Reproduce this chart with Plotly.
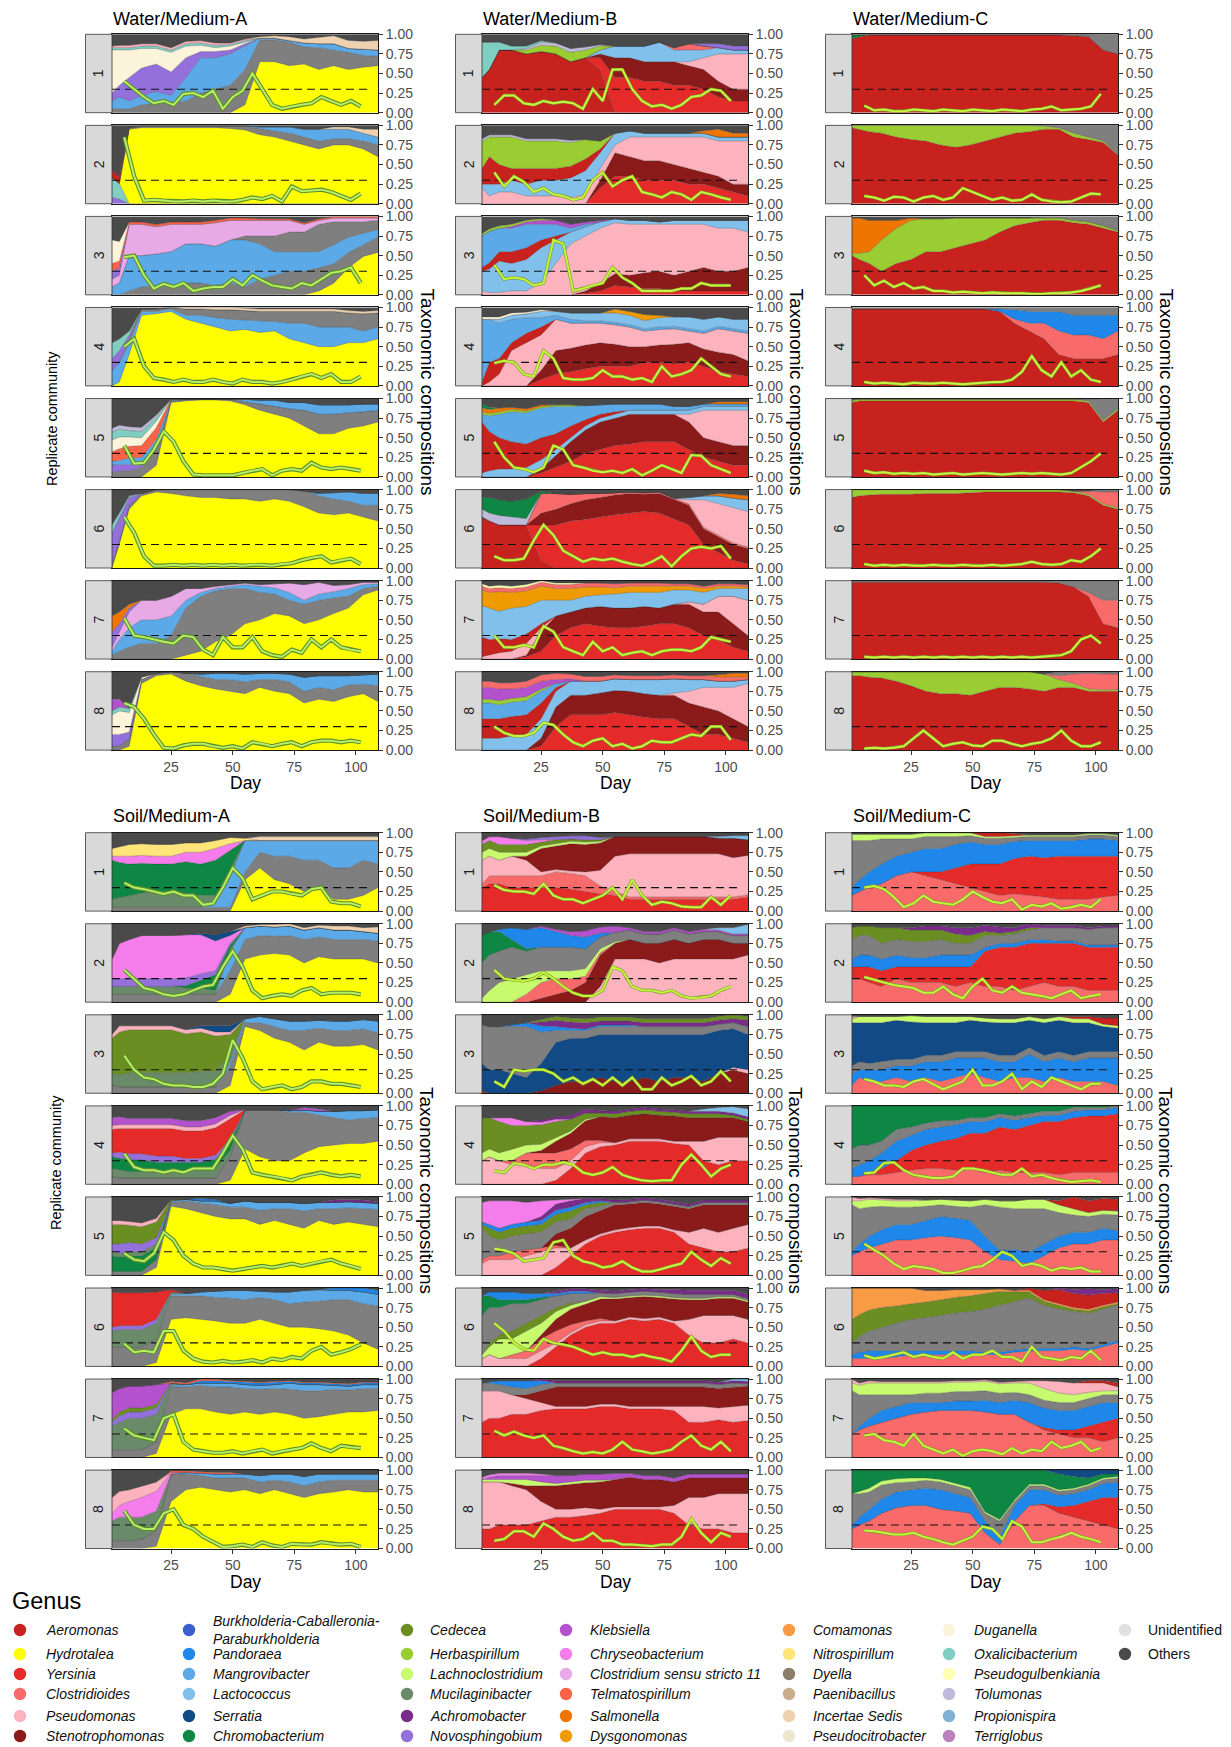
import plotly.graph_objects as go

# ---------------- data ----------------
DAYS = [1, 4, 8, 13, 19, 25, 31, 37, 43, 49, 55, 61, 67, 73, 79, 85, 91, 97, 103, 109]
LINE_DAYS = [6, 10, 14, 18, 22, 26, 30, 34, 38, 42, 46, 50, 54, 58, 62, 66, 70, 74, 78, 82, 86, 90, 94, 98, 102]
THRESHOLD = 0.3
DAY_TICKS = [25, 50, 75, 100]
PROP_TICKS = [0, 0.25, 0.5, 0.75, 1.0]
PROP_TICK_LABELS = ["0.00", "0.25", "0.50", "0.75", "1.00"]
REPLICATES = ["1", "2", "3", "4", "5", "6", "7", "8"]
HABITATS = ["Water", "Soil"]
MEDIA = ["Medium-A", "Medium-B", "Medium-C"]

GENUS_COLORS = {
    "Aeromonas": "#C8221F", "Hydrotalea": "#FFFF00", "Yersinia": "#E52A2A",
    "Clostridioides": "#F96B6B", "Pseudomonas": "#FCB3BE", "Stenotrophomonas": "#8B1A1A",
    "Burkholderia-Caballeronia-Paraburkholderia": "#3A5FCD", "Pandoraea": "#1F86EA",
    "Mangrovibacter": "#5BA9E6", "Lactococcus": "#82C0EC", "Serratia": "#124A85",
    "Chromobacterium": "#0E8744", "Cedecea": "#6B8E23", "Herbaspirillum": "#9ACD32",
    "Lachnoclostridium": "#C8FA6E", "Mucilaginibacter": "#698B69", "Achromobacter": "#7A2C8B",
    "Novosphingobium": "#9370DB", "Klebsiella": "#B452CD", "Chryseobacterium": "#F47CEB",
    "Clostridium sensu stricto 11": "#E8AAE6", "Telmatospirillum": "#FF6347",
    "Salmonella": "#EE7600", "Dysgonomonas": "#EE9A00", "Comamonas": "#F99B45",
    "Nitrospirillum": "#FFE47A", "Dyella": "#8B7D6B", "Paenibacillus": "#C9AE8E",
    "Incertae Sedis": "#EED2B0", "Pseudocitrobacter": "#EEE7CF", "Duganella": "#FBF3DA",
    "Oxalicibacterium": "#80CDC1", "Pseudogulbenkiania": "#FFFFB3", "Tolumonas": "#BEBADA",
    "Propionispira": "#80B1D3", "Terriglobus": "#BC80BD", "Unidentified": "#E0E0E0",
    "Others": "#4A4A4A",
}
MINOR_COLOR = "#7F7F7F"

LEGEND_COLUMNS = [
    ["Aeromonas", "Hydrotalea", "Yersinia", "Clostridioides", "Pseudomonas", "Stenotrophomonas"],
    ["Burkholderia-Caballeronia-Paraburkholderia", "Pandoraea", "Mangrovibacter", "Lactococcus", "Serratia", "Chromobacterium"],
    ["Cedecea", "Herbaspirillum", "Lachnoclostridium", "Mucilaginibacter", "Achromobacter", "Novosphingobium"],
    ["Klebsiella", "Chryseobacterium", "Clostridium sensu stricto 11", "Telmatospirillum", "Salmonella", "Dysgonomonas"],
    ["Comamonas", "Nitrospirillum", "Dyella", "Paenibacillus", "Incertae Sedis", "Pseudocitrobacter"],
    ["Duganella", "Oxalicibacterium", "Pseudogulbenkiania", "Tolumonas", "Propionispira", "Terriglobus"],
    ["Unidentified", "Others"],
]

# ---- Water / Medium-A (percent per genus at DAYS; remainder = Others) ----
WA1 = {
    "Hydrotalea":      [0,0,0,0,0,0,0,0,0,0,10,65,65,60,62,55,60,55,58,60],
    "Minor":           [5,5,5,10,12,12,15,25,30,35,45,28,28,30,22,28,20,22,15,12],
    "Mangrovibacter":  [10,15,10,12,15,10,30,45,40,40,30,2,2,2,5,5,8,5,8,8],
    "Novosphingobium": [10,15,30,35,35,30,25,8,8,5,3,0,0,0,0,0,0,0,0,0],
    "Duganella":       [55,45,35,25,20,25,15,8,5,5,2,0,0,0,0,0,0,0,0,0],
    "Oxalicibacterium":[3,3,3,3,3,3,3,3,3,2,2,0,0,0,0,0,0,0,0,0],
    "Pseudomonas":     [2,3,3,3,3,3,3,3,3,2,2,0,0,0,0,0,0,0,0,0],
    "Incertae Sedis":  [0,0,0,0,0,0,0,0,0,0,0,2,3,5,5,8,10,10,10,12],
}
WA1_LINE = [0.4,0.3,0.2,0.12,0.15,0.1,0.24,0.25,0.2,0.28,0.05,0.2,0.28,0.5,0.3,0.1,0.05,0.08,0.1,0.12,0.2,0.15,0.1,0.15,0.08]
WA2 = {
    "Novosphingobium": [8,6,0,0,0,0,0,0,0,0,0,0,0,0,0,0,0,0,0,0],
    "Oxalicibacterium":[25,20,0,0,0,0,0,0,0,0,0,0,0,0,0,0,0,0,0,0],
    "Hydrotalea":      [0,0,95,97,97,97,97,97,97,96,94,88,85,80,75,70,75,75,70,60],
    "Minor":           [0,0,2,2,2,2,2,2,2,3,5,8,8,10,10,10,8,8,10,15],
    "Mangrovibacter":  [0,0,0,0,0,0,0,0,0,0,0,2,5,8,10,15,12,12,10,10],
    "Aeromonas":       [10,8,0,0,0,0,0,0,0,0,0,0,0,0,0,0,0,0,0,0],
    "Incertae Sedis":  [0,0,0,0,0,0,0,0,0,0,0,0,0,0,0,0,3,3,5,10],
}
WA2_LINE = [0.85,0.35,0.04,0.05,0.04,0.03,0.03,0.04,0.03,0.04,0.03,0.03,0.05,0.08,0.06,0.1,0.03,0.22,0.16,0.17,0.18,0.15,0.1,0.05,0.13]
WA3 = {
    "Hydrotalea":      [0,0,0,0,0,0,0,0,0,0,0,0,0,0,0,5,15,35,50,55],
    "Minor":           [0,0,5,10,12,10,15,15,12,15,10,20,25,30,30,30,25,20,15,20],
    "Mangrovibacter":  [10,15,45,40,40,45,50,50,50,55,60,45,30,25,25,20,25,20,15,10],
    "Minor 2":         [0,0,0,0,0,0,0,0,0,0,5,10,20,25,25,35,30,20,15,12],
    "Clostridium sensu stricto 11": [10,10,40,40,35,35,25,25,30,25,20,20,20,15,10,5,5,5,5,3],
    "Novosphingobium": [10,10,0,0,0,0,0,0,0,0,0,0,0,0,0,0,0,0,0,0],
    "Telmatospirillum":[10,8,3,3,3,3,3,3,3,3,3,2,2,2,2,2,2,2,2,2],
    "Duganella":       [30,25,0,0,0,0,0,0,0,0,0,0,0,0,0,0,0,0,0,0],
}
WA3_LINE = [0.48,0.5,0.25,0.08,0.14,0.1,0.15,0.05,0.08,0.1,0.1,0.2,0.12,0.25,0.18,0.12,0.1,0.08,0.15,0.12,0.2,0.28,0.3,0.35,0.15]
WA4 = {
    "Hydrotalea":      [0,5,40,90,92,95,85,80,75,70,72,68,70,60,55,50,50,55,55,60],
    "Mangrovibacter":  [20,25,15,5,3,3,5,10,12,15,12,15,12,20,25,25,25,20,15,15],
    "Minor":           [0,0,5,3,3,2,8,8,10,12,12,12,13,15,15,20,20,18,22,18],
    "Novosphingobium": [15,15,5,0,0,0,0,0,0,0,0,0,0,0,0,0,0,0,0,0],
    "Oxalicibacterium":[20,15,5,0,0,0,0,0,0,0,0,0,0,0,0,0,0,0,0,0],
    "Incertae Sedis":  [0,0,0,0,0,0,2,2,3,3,3,3,3,3,3,3,3,3,3,3],
}
WA4_LINE = [0.5,0.6,0.25,0.1,0.08,0.05,0.08,0.05,0.05,0.08,0.05,0.03,0.08,0.05,0.05,0.03,0.05,0.08,0.12,0.15,0.1,0.15,0.05,0.05,0.12]
WA5 = {
    "Hydrotalea":      [0,0,0,0,15,95,97,98,98,97,92,85,80,75,65,55,55,62,65,70],
    "Minor":           [5,8,8,12,20,2,2,1,1,2,4,8,10,12,20,25,25,20,18,15],
    "Novosphingobium": [10,8,8,5,3,0,0,0,0,0,0,0,0,0,0,0,0,0,0,0],
    "Mangrovibacter":  [5,5,8,8,10,1,0,0,0,0,3,5,8,8,10,12,12,10,10,8],
    "Telmatospirillum":[12,15,15,15,15,1,0,0,0,0,0,0,0,0,0,0,0,0,0,0],
    "Duganella":       [15,15,12,10,8,0,0,0,0,0,0,0,0,0,0,0,0,0,0,0],
    "Oxalicibacterium":[10,10,8,8,5,0,0,0,0,0,0,0,0,0,0,0,0,0,0,0],
    "Tolumonas":       [5,5,5,5,3,0,0,0,0,0,0,0,0,0,0,0,0,0,0,0],
}
WA5_LINE = [0.4,0.17,0.18,0.35,0.58,0.45,0.2,0.03,0.02,0.02,0.02,0.02,0.05,0.08,0.1,0.02,0.08,0.1,0.08,0.18,0.12,0.1,0.12,0.1,0.08]
WA6 = {
    "Hydrotalea":      [0,30,75,92,97,95,92,90,90,88,88,85,88,85,78,70,68,70,65,60],
    "Minor":           [5,5,5,3,3,5,8,10,10,12,12,15,12,15,20,22,20,15,15,20],
    "Mangrovibacter":  [0,0,0,0,0,0,0,0,0,0,0,0,0,0,0,3,8,12,15,15],
    "Novosphingobium": [40,30,10,0,0,0,0,0,0,0,0,0,0,0,0,0,0,0,0,0],
    "Oxalicibacterium":[10,5,2,0,0,0,0,0,0,0,0,0,0,0,0,0,0,0,0,0],
}
WA6_LINE = [0.65,0.45,0.15,0.03,0.03,0.04,0.03,0.04,0.03,0.04,0.03,0.04,0.03,0.04,0.04,0.03,0.05,0.06,0.1,0.13,0.15,0.07,0.1,0.12,0.05]
WA7 = {
    "Hydrotalea":      [0,0,0,0,0,0,5,10,22,30,45,50,58,55,45,50,58,65,82,88],
    "Minor":           [5,10,15,20,20,30,60,70,65,60,45,35,25,20,25,25,20,15,8,5],
    "Mangrovibacter":  [5,15,25,30,30,25,10,5,3,3,5,8,8,10,5,8,8,10,5,3],
    "Clostridium sensu stricto 11": [5,10,20,25,25,25,15,5,3,2,2,2,5,12,20,15,8,5,3,2],
    "Novosphingobium": [20,10,5,0,0,0,0,0,0,0,0,0,0,0,0,0,0,0,0,0],
    "Salmonella":      [20,15,5,0,0,0,0,0,0,0,0,0,0,0,0,0,0,0,0,0],
}
WA7_LINE = [0.52,0.3,0.28,0.25,0.22,0.2,0.3,0.28,0.12,0.05,0.28,0.15,0.15,0.28,0.1,0.05,0.03,0.12,0.08,0.25,0.15,0.25,0.15,0.12,0.1]
WA8 = {
    "Hydrotalea":      [0,0,5,85,95,97,88,82,78,75,72,80,75,72,60,65,62,68,72,62],
    "Minor":           [5,5,10,5,3,3,10,12,12,15,15,10,15,15,15,15,15,15,12,20],
    "Mangrovibacter":  [0,0,0,0,0,0,0,3,8,8,10,8,8,10,18,15,18,12,12,15],
    "Novosphingobium": [15,15,8,0,0,0,0,0,0,0,0,0,0,0,0,0,0,0,0,0],
    "Duganella":       [25,30,25,3,0,0,0,0,0,0,0,0,0,0,0,0,0,0,0,0],
    "Oxalicibacterium":[5,5,5,0,0,0,0,0,0,0,0,0,0,0,0,0,0,0,0,0],
    "Klebsiella":      [15,10,0,0,0,0,0,0,0,0,0,0,0,0,0,0,0,0,0,0],
}
WA8_LINE = [0.6,0.55,0.4,0.2,0.03,0.02,0.06,0.08,0.08,0.05,0.03,0.05,0.02,0.1,0.08,0.05,0.08,0.1,0.05,0.1,0.12,0.12,0.1,0.12,0.1]

# ---- Water / Medium-B ----
WB1 = {
    "Aeromonas":       [45,55,80,80,75,78,75,65,70,55,0,0,0,0,0,0,0,0,0,0],
    "Yersinia":        [0,0,0,0,0,0,0,0,0,15,45,45,40,40,35,35,30,20,15,15],
    "Stenotrophomonas":[0,0,0,0,0,0,0,0,0,5,25,25,25,25,30,25,25,20,15,15],
    "Pseudomonas":     [0,0,0,0,0,0,0,0,0,0,0,0,0,0,0,5,15,35,45,45],
    "Lactococcus":     [0,0,0,0,0,0,0,0,0,5,15,15,20,25,15,15,10,8,5,5],
    "Clostridioides":  [0,0,0,0,0,0,0,0,0,0,0,0,0,0,3,8,5,0,0,0],
    "Herbaspirillum":  [0,0,0,0,5,8,10,12,10,5,0,0,0,0,0,0,0,0,0,0],
    "Tolumonas":       [0,0,0,0,2,4,4,5,4,2,0,0,0,0,0,0,0,0,0,0],
    "Oxalicibacterium":[45,35,10,5,3,2,0,0,0,0,0,0,0,0,0,0,0,0,0,0],
    "Novosphingobium": [0,0,0,0,0,0,0,0,0,0,0,0,0,0,0,0,3,5,5,5],
}
WB1_LINE = [0.1,0.22,0.22,0.12,0.1,0.15,0.12,0.14,0.12,0.05,0.3,0.15,0.55,0.55,0.3,0.15,0.08,0.1,0.05,0.1,0.2,0.22,0.3,0.28,0.15]
WB2 = {
    "Yersinia":        [0,0,0,0,0,0,0,0,0,20,35,35,30,30,30,25,25,20,15,10],
    "Stenotrophomonas":[0,0,0,0,0,0,0,0,0,10,30,25,25,25,20,20,15,15,10,15],
    "Pseudomonas":     [20,10,15,15,10,10,10,8,12,15,10,25,30,30,35,40,45,45,55,55],
    "Lactococcus":     [5,15,10,15,15,20,20,25,30,20,15,8,5,5,5,5,5,5,5,5],
    "Aeromonas":       [20,35,25,15,20,15,15,15,15,5,0,0,0,0,0,0,0,0,0,0],
    "Herbaspirillum":  [35,25,35,40,35,35,35,30,25,10,0,0,0,0,0,0,0,0,0,0],
    "Tolumonas":       [3,3,3,3,3,3,3,3,0,0,0,0,0,0,0,0,0,0,0,0],
    "Salmonella":      [0,0,0,0,0,0,0,0,0,0,0,0,0,0,0,0,3,10,5,5],
}
WB2_LINE = [0.4,0.22,0.35,0.28,0.15,0.2,0.12,0.1,0.05,0.08,0.3,0.4,0.22,0.3,0.35,0.15,0.12,0.08,0.15,0.12,0.05,0.15,0.12,0.08,0.05]
WB3 = {
    "Yersinia":        [0,0,0,0,0,0,0,0,2,5,12,10,8,8,5,5,5,5,5,5],
    "Stenotrophomonas":[0,0,0,0,0,0,0,0,3,10,15,15,20,22,20,25,30,25,25,30],
    "Pseudomonas":     [5,3,3,5,5,15,40,65,70,70,65,65,62,60,65,60,55,55,55,45],
    "Lactococcus":     [25,30,40,35,40,45,30,15,12,8,5,5,5,3,5,5,5,10,10,15],
    "Aeromonas":       [5,8,12,15,15,10,5,0,0,0,0,0,0,0,0,0,0,0,0,0],
    "Mangrovibacter":  [40,40,30,30,30,20,15,5,3,0,0,0,0,0,0,0,0,0,0,0],
    "Klebsiella":      [0,0,0,2,3,5,5,5,3,2,0,0,0,0,0,0,0,0,0,0],
    "Herbaspirillum":  [3,3,3,3,2,2,0,0,0,0,0,0,0,0,0,0,0,0,0,0],
}
WB3_LINE = [0.38,0.2,0.22,0.2,0.12,0.15,0.7,0.65,0.05,0.08,0.12,0.15,0.35,0.22,0.15,0.05,0.05,0.05,0.05,0.08,0.08,0.15,0.12,0.12,0.12]
WB4 = {
    "Yersinia":        [0,0,0,0,0,8,15,18,22,25,25,25,30,30,28,30,25,18,15,12],
    "Stenotrophomonas":[0,0,0,0,0,12,30,30,30,30,28,25,20,22,25,25,22,25,25,20],
    "Pseudomonas":     [0,5,15,45,55,45,40,32,28,25,25,25,20,20,20,15,20,30,30,35],
    "Aeromonas":       [5,25,20,10,12,10,0,0,0,0,0,0,0,0,0,0,0,0,0,0],
    "Mangrovibacter":  [80,55,45,30,20,12,5,5,3,3,3,3,3,3,3,3,3,3,3,3],
    "Lactococcus":     [0,0,5,5,5,8,5,8,10,10,12,12,10,12,12,15,15,12,12,15],
    "Dysgonomonas":    [0,0,0,0,0,0,0,0,0,0,5,5,8,3,0,0,0,0,0,0],
    "Duganella":       [3,3,3,3,2,2,0,0,0,0,0,0,0,0,0,0,0,0,0,0],
}
WB4_LINE = [0.29,0.32,0.3,0.15,0.12,0.45,0.35,0.1,0.08,0.08,0.1,0.2,0.12,0.12,0.08,0.1,0.05,0.25,0.12,0.15,0.2,0.35,0.25,0.15,0.12]
WB5 = {
    "Yersinia":        [0,0,0,0,0,5,12,20,30,35,40,42,45,45,45,35,25,20,15,15],
    "Stenotrophomonas":[0,0,0,0,0,5,15,25,30,35,35,38,35,35,35,35,25,25,25,25],
    "Pseudomonas":     [0,0,0,0,0,0,0,0,0,0,0,0,0,0,0,10,35,40,45,45],
    "Lactococcus":     [5,8,10,10,12,12,8,5,5,5,5,5,5,5,5,5,5,5,5,5],
    "Aeromonas":       [65,50,40,35,30,28,20,15,8,5,3,0,0,0,0,0,0,0,0,0],
    "Mangrovibacter":  [10,20,30,38,40,38,35,25,18,12,10,8,8,8,5,5,3,3,3,3],
    "Herbaspirillum":  [3,3,3,3,2,2,2,2,0,0,0,0,0,0,0,0,0,0,0,0],
    "Salmonella":      [5,5,5,3,3,2,0,0,0,0,0,0,0,0,0,0,0,3,3,3],
    "Chromobacterium": [5,3,0,0,0,0,0,0,0,0,0,0,0,0,0,0,0,0,0,0],
}
WB5_LINE = [0.45,0.25,0.12,0.1,0.06,0.12,0.4,0.35,0.15,0.12,0.08,0.06,0.08,0.05,0.1,0.02,0.08,0.15,0.1,0.05,0.28,0.27,0.15,0.1,0.05]
WB6 = {
    "Aeromonas":       [65,60,55,55,55,10,0,0,0,0,0,0,0,0,0,0,0,0,0,0],
    "Yersinia":        [0,0,0,0,0,45,55,60,62,65,68,70,72,70,62,55,30,20,10,5],
    "Stenotrophomonas":[0,0,0,0,0,15,20,22,25,25,25,25,22,25,25,25,20,20,20,20],
    "Clostridioides":  [0,0,0,0,0,25,20,12,8,5,3,2,2,2,2,2,2,2,2,2],
    "Pseudomonas":     [0,0,0,0,0,0,0,0,0,0,0,0,0,0,0,5,35,40,45,45],
    "Lactococcus":     [0,0,0,0,0,0,0,0,0,0,0,0,0,0,0,3,5,10,12,15],
    "Tolumonas":       [10,10,12,10,8,0,0,0,0,0,0,0,0,0,0,0,0,0,0,0],
    "Chromobacterium": [15,20,20,20,25,3,0,0,0,0,0,0,0,0,0,0,0,0,0,0],
    "Salmonella":      [0,0,0,0,0,0,0,0,0,0,0,0,0,0,0,0,0,3,5,5],
}
WB6_LINE = [0.15,0.1,0.1,0.12,0.35,0.55,0.42,0.22,0.15,0.08,0.12,0.1,0.12,0.08,0.05,0.03,0.08,0.15,0.02,0.15,0.25,0.27,0.25,0.28,0.12]
WB7 = {
    "Yersinia":        [0,0,0,0,3,10,30,40,45,42,40,40,42,45,45,40,30,25,15,10],
    "Stenotrophomonas":[0,0,0,0,2,25,25,20,20,25,25,25,25,20,25,30,30,35,30,20],
    "Pseudomonas":     [3,5,8,10,15,5,0,0,0,0,0,0,0,0,0,3,10,20,35,45],
    "Aeromonas":       [25,20,18,15,12,5,0,0,0,0,0,0,0,0,0,0,0,0,0,0],
    "Lactococcus":     [40,40,35,40,35,30,20,15,15,15,18,20,18,20,18,15,15,10,10,15],
    "Dysgonomonas":    [20,20,25,20,20,18,15,15,12,10,8,8,8,8,5,5,5,3,3,2],
    "Clostridioides":  [5,5,5,5,5,5,5,5,5,5,5,4,4,4,3,3,3,3,3,3],
    "Pseudogulbenkiania":[3,3,3,3,3,2,2,2,0,0,0,0,0,0,0,0,0,0,0,0],
}
WB7_LINE = [0.3,0.15,0.15,0.18,0.15,0.42,0.35,0.15,0.1,0.05,0.22,0.1,0.15,0.05,0.08,0.1,0.05,0.1,0.12,0.12,0.1,0.15,0.28,0.25,0.22]
WB8 = {
    "Yersinia":        [0,0,0,0,0,5,30,45,45,45,48,45,42,40,40,30,20,20,15,10],
    "Stenotrophomonas":[0,0,0,0,0,10,25,25,25,28,28,30,30,30,30,30,35,30,25,20],
    "Pseudomonas":     [0,0,0,0,0,0,0,0,0,0,0,0,0,0,3,15,25,30,40,55],
    "Lactococcus":     [15,15,15,18,20,25,20,18,18,15,15,15,18,20,18,15,10,8,8,5],
    "Aeromonas":       [25,25,25,25,25,20,5,0,0,0,0,0,0,0,0,0,0,0,0,0],
    "Mangrovibacter":  [20,20,18,18,18,15,5,0,0,0,0,0,0,0,0,0,0,0,0,0],
    "Herbaspirillum":  [5,5,5,5,5,3,0,0,0,0,0,0,0,0,0,0,0,0,0,0],
    "Klebsiella":      [15,15,15,12,12,10,5,3,0,0,0,0,0,0,0,0,0,0,0,0],
    "Clostridioides":  [8,8,8,8,8,8,8,6,6,6,5,5,5,5,5,5,5,5,5,3],
    "Salmonella":      [0,0,0,0,0,0,0,0,0,0,0,0,0,0,0,0,0,3,5,5],
}
WB8_LINE = [0.3,0.22,0.18,0.18,0.22,0.35,0.32,0.2,0.1,0.05,0.12,0.15,0.05,0.08,0.02,0.05,0.12,0.1,0.1,0.15,0.2,0.18,0.3,0.3,0.13]

# ---- Water / Medium-C ----
WC1 = {
    "Aeromonas":       [94,97,99,99,99,99,99,99,99,99,99,99,99,99,99,99,98,97,80,75],
    "Chromobacterium": [5,2,0,0,0,0,0,0,0,0,0,0,0,0,0,0,0,0,0,0],
    "Minor":           [0,0,0,0,0,0,0,0,0,0,0,0,0,0,0,0,1,2,20,25],
}
WC1_LINE = [0.09,0.03,0.04,0.02,0.02,0.04,0.03,0.02,0.04,0.03,0.02,0.04,0.03,0.02,0.04,0.03,0.02,0.04,0.05,0.08,0.03,0.04,0.05,0.08,0.24]
WC2 = {
    "Aeromonas":       [97,95,92,90,85,82,80,75,72,75,80,85,90,92,95,95,85,82,78,62],
    "Herbaspirillum":  [3,5,8,10,15,18,20,25,28,25,20,15,10,8,4,2,5,3,2,0],
    "Minor":           [0,0,0,0,0,0,0,0,0,0,0,0,0,0,1,3,10,15,20,38],
}
WC2_LINE = [0.1,0.08,0.04,0.09,0.08,0.03,0.08,0.1,0.05,0.08,0.2,0.15,0.1,0.05,0.08,0.04,0.05,0.12,0.05,0.03,0.02,0.03,0.08,0.13,0.12]
WC3 = {
    "Aeromonas":       [50,45,40,30,40,45,55,55,60,65,70,80,88,92,95,95,92,90,85,80],
    "Herbaspirillum":  [3,8,15,40,45,50,42,42,38,33,28,18,10,6,3,3,3,3,3,2],
    "Salmonella":      [45,45,40,25,10,3,0,0,0,0,0,0,0,0,0,0,0,0,0,0],
    "Minor":           [0,0,0,0,0,0,0,0,0,0,0,0,0,0,2,2,5,7,12,18],
}
WC3_LINE = [0.25,0.12,0.18,0.1,0.15,0.08,0.1,0.05,0.05,0.03,0.04,0.03,0.02,0.03,0.02,0.02,0.02,0.01,0.01,0.02,0.02,0.03,0.05,0.08,0.12]
WC4 = {
    "Aeromonas":       [98,98,98,98,98,98,98,98,98,98,98,95,80,70,60,40,35,35,35,40],
    "Clostridioides":  [0,0,0,0,0,0,0,0,0,0,0,0,5,10,20,30,30,30,25,30],
    "Pandoraea":       [0,0,0,0,0,0,0,0,0,0,0,3,12,15,15,25,25,25,30,20],
    "Minor":           [2,2,2,2,2,2,2,2,2,2,2,2,3,5,5,5,10,10,10,10],
}
WC4_LINE = [0.05,0.03,0.04,0.03,0.02,0.04,0.03,0.03,0.04,0.03,0.02,0.03,0.04,0.05,0.05,0.08,0.18,0.38,0.2,0.12,0.3,0.12,0.2,0.08,0.05]
WC5 = {
    "Aeromonas":       [95,97,97,97,97,97,97,97,97,97,97,97,97,97,97,97,97,95,70,85],
    "Herbaspirillum":  [3,2,2,2,2,2,2,2,2,2,2,2,2,2,2,2,2,2,2,2],
    "Minor":           [0,0,0,0,0,0,0,0,0,0,0,0,0,0,0,0,0,2,28,13],
}
WC5_LINE = [0.08,0.05,0.06,0.04,0.05,0.04,0.05,0.03,0.04,0.05,0.03,0.04,0.05,0.04,0.03,0.04,0.05,0.04,0.05,0.04,0.03,0.05,0.12,0.2,0.3]
WC6 = {
    "Aeromonas":       [90,92,93,94,94,94,95,95,95,96,97,97,97,97,97,97,96,92,80,75],
    "Herbaspirillum":  [10,8,7,6,6,6,5,5,5,4,3,3,3,3,3,3,2,2,2,2],
    "Clostridioides":  [0,0,0,0,0,0,0,0,0,0,0,0,0,0,0,0,0,4,15,20],
    "Minor":           [0,0,0,0,0,0,0,0,0,0,0,0,0,0,0,0,0,0,3,3],
}
WC6_LINE = [0.05,0.03,0.04,0.03,0.04,0.03,0.03,0.04,0.03,0.03,0.04,0.03,0.03,0.04,0.03,0.04,0.05,0.08,0.05,0.04,0.05,0.1,0.08,0.15,0.25]
WC7 = {
    "Aeromonas":       [98,98,98,98,98,98,98,98,98,98,98,98,98,98,98,97,92,80,45,40],
    "Clostridioides":  [0,0,0,0,0,0,0,0,0,0,0,0,0,0,0,0,0,5,30,35],
    "Minor":           [2,2,2,2,2,2,2,2,2,2,2,2,2,2,2,3,8,15,25,25],
}
WC7_LINE = [0.03,0.02,0.03,0.02,0.03,0.02,0.03,0.02,0.03,0.02,0.03,0.02,0.03,0.02,0.03,0.02,0.03,0.02,0.03,0.04,0.05,0.1,0.25,0.3,0.2]
WC8 = {
    "Aeromonas":       [95,95,93,92,88,82,75,72,72,70,75,80,80,78,75,80,80,75,75,75],
    "Herbaspirillum":  [5,5,7,8,12,18,25,28,28,30,25,20,20,22,22,10,5,3,2,2],
    "Clostridioides":  [0,0,0,0,0,0,0,0,0,0,0,0,0,0,0,5,12,20,20,20],
    "Minor":           [0,0,0,0,0,0,0,0,0,0,0,0,0,0,0,5,3,2,3,3],
}
WC8_LINE = [0.02,0.03,0.02,0.03,0.05,0.15,0.25,0.15,0.05,0.08,0.1,0.06,0.05,0.12,0.12,0.08,0.05,0.08,0.1,0.15,0.25,0.12,0.05,0.05,0.1]

# ---- Soil / Medium-A ----
SA1 = {
    "Hydrotalea":      [0,0,0,0,0,0,0,0,0,0,40,55,40,35,25,30,15,15,20,30],
    "Minor":           [5,5,5,5,5,5,5,5,5,5,10,20,30,35,40,35,40,40,45,30],
    "Mangrovibacter":  [0,0,0,0,0,0,0,0,5,40,40,15,20,20,25,25,35,35,25,30],
    "Mucilaginibacter":[10,12,15,18,20,20,18,15,10,8,0,0,0,0,0,0,0,0,0,0],
    "Chromobacterium": [50,45,40,38,35,35,40,40,45,25,0,0,0,0,0,0,0,0,0,0],
    "Chryseobacterium":[5,8,10,10,10,10,12,15,15,8,0,0,0,0,0,0,0,0,0,0],
    "Nitrospirillum":  [10,12,15,15,15,15,12,12,10,8,3,0,0,0,0,0,0,0,0,0],
    "Incertae Sedis":  [0,0,0,0,0,0,0,0,0,0,0,5,5,5,5,5,5,5,5,5],
}
SA1_LINE = [0.36,0.3,0.28,0.25,0.22,0.25,0.2,0.2,0.08,0.1,0.3,0.55,0.42,0.15,0.2,0.25,0.25,0.22,0.2,0.28,0.3,0.12,0.1,0.1,0.06]
SA2 = {
    "Hydrotalea":      [0,0,0,0,0,0,0,0,0,10,55,60,62,60,50,58,55,55,55,50],
    "Minor":           [10,10,10,10,10,10,10,10,10,30,25,25,22,25,30,25,25,25,25,28],
    "Mangrovibacter":  [0,0,0,0,0,0,0,0,0,25,15,12,12,12,12,12,12,12,10,10],
    "Mucilaginibacter":[10,10,10,10,10,10,8,8,5,3,0,0,0,0,0,0,0,0,0,0],
    "Chromobacterium": [0,0,0,0,0,0,3,10,20,5,0,0,0,0,0,0,0,0,0,0],
    "Novosphingobium": [10,10,10,10,10,10,10,8,5,2,0,0,0,0,0,0,0,0,0,0],
    "Chryseobacterium":[25,45,50,55,55,55,55,50,38,10,0,0,0,0,0,0,0,0,0,0],
    "Serratia":        [0,0,0,0,0,0,0,2,8,5,0,0,0,0,0,0,0,0,0,0],
    "Incertae Sedis":  [0,0,0,0,0,0,0,0,0,0,2,2,3,3,3,3,5,5,5,8],
}
SA2_LINE = [0.41,0.3,0.18,0.15,0.1,0.08,0.1,0.15,0.2,0.22,0.45,0.65,0.45,0.15,0.05,0.08,0.1,0.08,0.15,0.18,0.1,0.12,0.12,0.12,0.1]
SA3 = {
    "Hydrotalea":      [0,0,0,0,0,0,0,0,0,10,85,80,70,65,55,65,60,60,62,55],
    "Minor":           [10,8,8,8,8,8,8,8,8,25,5,10,15,15,25,18,20,20,20,22],
    "Mangrovibacter":  [0,0,0,0,0,0,0,0,0,5,5,8,10,12,12,10,12,12,12,15],
    "Mucilaginibacter":[15,15,18,18,18,18,18,20,20,10,0,0,0,0,0,0,0,0,0,0],
    "Cedecea":         [45,55,55,55,55,55,50,50,45,25,0,0,0,0,0,0,0,0,0,0],
    "Pseudomonas":     [5,8,5,5,5,5,5,5,5,3,0,0,0,0,0,0,0,0,0,0],
    "Serratia":        [0,0,0,0,0,0,0,3,8,8,0,0,0,0,0,0,0,0,0,0],
}
SA3_LINE = [0.48,0.3,0.2,0.18,0.12,0.1,0.1,0.08,0.08,0.12,0.25,0.68,0.45,0.15,0.05,0.08,0.1,0.05,0.08,0.15,0.15,0.12,0.12,0.1,0.08]
SA4 = {
    "Hydrotalea":      [0,0,0,0,0,0,0,0,0,5,45,35,30,30,40,48,50,52,52,55],
    "Minor":           [10,8,8,8,8,8,8,8,8,30,50,60,65,62,52,40,35,30,32,30],
    "Mangrovibacter":  [0,0,0,0,0,0,0,0,0,0,0,0,0,2,3,5,8,12,10,10],
    "Mucilaginibacter":[10,10,8,8,8,8,10,10,12,8,0,0,0,0,0,0,0,0,0,0],
    "Chromobacterium": [15,15,15,15,12,12,10,10,12,10,0,0,0,0,0,0,0,0,0,0],
    "Novosphingobium": [5,8,8,8,8,8,5,5,5,5,0,0,0,0,0,0,0,0,0,0],
    "Yersinia":        [30,30,32,32,35,35,35,35,35,25,0,0,0,0,0,0,0,0,0,0],
    "Pseudomonas":     [5,5,5,5,5,5,5,5,5,5,0,0,0,0,0,0,0,0,0,0],
    "Klebsiella":      [10,10,8,8,8,8,8,8,8,5,0,0,0,0,3,3,0,0,0,0],
}
SA4_LINE = [0.39,0.22,0.18,0.18,0.15,0.18,0.15,0.2,0.2,0.2,0.4,0.62,0.45,0.15,0.12,0.1,0.08,0.05,0.1,0.12,0.15,0.12,0.1,0.12,0.1]
SA5 = {
    "Hydrotalea":      [0,0,0,0,10,88,85,80,75,72,72,65,70,65,60,70,65,68,65,62],
    "Minor":           [5,5,5,5,10,5,10,12,15,15,15,18,15,20,22,15,20,18,20,22],
    "Mangrovibacter":  [0,0,0,0,0,2,2,3,5,5,8,10,8,8,10,8,8,8,8,8],
    "Chromobacterium": [20,18,20,20,15,0,0,0,0,0,0,0,0,0,0,0,0,0,0,0],
    "Mucilaginibacter":[5,5,5,5,5,0,0,0,0,0,0,0,0,0,0,0,0,0,0,0],
    "Novosphingobium": [10,12,12,10,8,0,0,0,0,0,0,0,0,0,0,0,0,0,0,0],
    "Cedecea":         [25,25,22,22,20,2,0,0,0,0,0,0,0,0,0,0,0,0,0,0],
    "Pseudomonas":     [5,5,5,5,5,0,0,0,0,0,0,0,0,0,0,0,0,0,0,0],
    "Pandoraea":       [0,0,0,0,0,0,0,3,2,0,0,0,0,0,0,0,0,0,0,0],
    "Achromobacter":   [0,0,0,0,0,0,0,0,0,0,0,0,0,0,0,0,3,3,3,2],
}
SA5_LINE = [0.28,0.2,0.18,0.28,0.55,0.45,0.25,0.15,0.1,0.1,0.08,0.06,0.08,0.1,0.12,0.1,0.12,0.15,0.12,0.15,0.18,0.2,0.15,0.12,0.08]
SA6 = {
    "Hydrotalea":      [0,0,0,0,5,60,62,60,58,55,55,60,55,50,50,48,45,40,30,22],
    "Minor":           [25,25,25,25,30,30,28,30,30,32,30,28,30,30,32,35,40,45,50,55],
    "Mangrovibacter":  [0,0,0,0,0,2,3,5,8,10,12,8,10,15,15,15,12,12,15,15],
    "Mucilaginibacter":[20,22,22,22,20,3,0,0,0,0,0,0,0,0,0,0,0,0,0,0],
    "Novosphingobium": [5,5,5,5,5,0,0,0,0,0,0,0,0,0,0,0,0,0,0,0],
    "Yersinia":        [45,42,42,42,35,3,0,0,0,0,0,0,0,0,0,0,0,0,0,0],
    "Pandoraea":       [0,0,0,0,0,0,0,0,0,0,0,0,0,0,0,0,3,3,5,5],
}
SA6_LINE = [0.29,0.18,0.2,0.18,0.45,0.45,0.2,0.1,0.06,0.05,0.07,0.05,0.06,0.08,0.05,0.1,0.08,0.12,0.1,0.2,0.25,0.15,0.18,0.22,0.28]
SA7 = {
    "Hydrotalea":      [0,0,0,0,5,55,62,62,58,55,58,55,58,55,50,52,55,58,58,60],
    "Minor":           [10,10,10,10,15,35,28,30,32,35,30,32,30,32,35,33,32,28,30,28],
    "Mangrovibacter":  [0,0,0,0,0,2,3,3,5,5,5,5,5,8,8,8,5,5,5,5],
    "Mucilaginibacter":[30,35,40,40,35,3,0,0,0,0,0,0,0,0,0,0,0,0,0,0],
    "Novosphingobium": [5,8,8,8,8,0,0,0,0,0,0,0,0,0,0,0,0,0,0,0],
    "Cedecea":         [3,5,5,5,5,0,0,0,0,0,0,0,0,0,0,0,0,0,0,0],
    "Klebsiella":      [35,30,28,28,25,0,0,0,0,0,0,0,0,0,0,0,0,0,0,0],
    "Pandoraea":       [0,0,0,0,0,0,0,3,3,2,3,3,3,2,2,2,2,2,2,2],
    "Telmatospirillum":[0,0,0,0,0,2,2,2,2,1,1,1,1,1,1,1,1,1,1,1],
}
SA7_LINE = [0.37,0.28,0.25,0.22,0.5,0.55,0.2,0.1,0.08,0.06,0.06,0.08,0.05,0.08,0.1,0.05,0.08,0.1,0.12,0.18,0.12,0.08,0.15,0.13,0.12]
SA8 = {
    "Hydrotalea":      [0,0,0,0,3,60,75,78,75,72,75,70,75,70,65,70,72,75,72,72],
    "Minor":           [10,10,10,12,20,35,20,15,15,18,15,15,12,15,15,15,15,12,15,15],
    "Mangrovibacter":  [0,0,0,0,0,0,2,3,5,5,5,8,8,10,12,10,8,8,8,8],
    "Mucilaginibacter":[25,30,30,28,25,0,0,0,0,0,0,0,0,0,0,0,0,0,0,0],
    "Chryseobacterium":[10,15,20,25,25,2,0,0,0,0,0,0,0,0,0,0,0,0,0,0],
    "Pseudomonas":     [20,18,15,15,12,0,0,0,0,0,0,0,0,0,0,0,0,0,0,0],
    "Telmatospirillum":[0,0,0,0,0,2,2,2,2,2,0,0,0,0,0,0,0,0,0,0],
}
SA8_LINE = [0.48,0.3,0.25,0.25,0.45,0.5,0.3,0.25,0.15,0.08,0.02,0.03,0.05,0.02,0.08,0.04,0.02,0.06,0.05,0.05,0.08,0.06,0.05,0.06,0.02]

# ---- Soil / Medium-B ----
SB1 = {
    "Yersinia":        [30,35,35,30,30,30,30,28,25,22,20,15,15,15,15,15,15,15,15,18],
    "Clostridioides":  [5,10,10,15,15,15,20,20,20,10,5,3,3,3,3,3,3,3,3,3],
    "Pseudomonas":     [30,25,20,25,20,5,3,3,5,20,45,55,55,55,55,55,55,55,50,50],
    "Stenotrophomonas":[0,0,0,0,5,30,30,35,35,35,25,22,22,22,22,22,22,20,25,20],
    "Lachnoclostridium":[10,10,10,5,5,3,3,3,3,2,0,0,0,0,0,0,0,0,0,0],
    "Cedecea":         [10,10,10,10,10,5,5,3,3,2,0,0,0,0,0,0,0,0,0,0],
    "Chryseobacterium":[5,5,10,8,5,3,0,0,0,0,0,0,0,0,0,0,0,0,0,0],
    "Novosphingobium": [0,0,0,0,2,3,4,4,5,3,0,0,0,0,0,0,0,0,0,0],
    "Lactococcus":     [0,0,0,0,0,0,0,0,0,0,0,0,0,0,0,0,0,2,3,5],
}
SB1_LINE = [0.33,0.27,0.25,0.25,0.22,0.35,0.2,0.15,0.15,0.1,0.15,0.2,0.3,0.15,0.4,0.2,0.08,0.12,0.1,0.06,0.05,0.05,0.18,0.08,0.2]
SB2 = {
    "Pseudomonas":     [0,0,0,0,0,0,0,0,0,20,55,55,55,50,55,55,55,55,55,60],
    "Stenotrophomonas":[0,0,0,0,0,5,10,15,25,40,20,25,20,25,25,20,25,25,20,15],
    "Clostridioides":  [0,0,0,0,10,20,20,15,8,3,0,0,0,0,0,0,0,0,0,0],
    "Lachnoclostridium":[5,15,25,30,25,15,10,10,10,5,2,0,0,0,0,0,0,0,0,0],
    "Minor":           [45,45,40,40,30,30,30,30,25,15,12,12,12,12,12,12,10,10,10,10],
    "Chromobacterium": [35,30,25,10,3,0,0,0,0,0,0,0,0,0,0,0,0,0,0,0],
    "Pandoraea":       [0,0,3,15,25,25,20,15,15,5,0,0,0,0,0,0,0,0,0,0],
    "Klebsiella":      [0,0,0,0,0,2,3,5,8,8,8,3,3,3,3,3,3,2,2,2],
    "Lactococcus":     [0,0,0,0,0,0,0,0,0,0,0,0,0,0,0,0,0,3,8,12],
}
SB2_LINE = [0.41,0.3,0.28,0.27,0.3,0.38,0.3,0.2,0.12,0.08,0.08,0.15,0.45,0.4,0.2,0.15,0.15,0.12,0.15,0.08,0.05,0.06,0.08,0.15,0.2]
SB3 = {
    "Yersinia":        [3,0,0,0,0,0,0,0,0,0,0,0,0,0,0,0,0,0,0,0],
    "Stenotrophomonas":[0,0,0,0,0,3,10,15,15,20,15,15,20,15,20,20,15,25,30,25],
    "Pseudomonas":     [0,0,0,0,0,0,0,0,0,0,0,0,0,0,0,0,0,0,3,5],
    "Serratia":        [35,30,30,25,20,35,55,55,55,55,60,60,55,60,55,55,60,55,50,45],
    "Minor":           [50,55,55,60,65,40,15,10,10,10,10,10,10,10,10,10,10,8,8,10],
    "Pandoraea":       [0,0,0,2,5,8,5,3,2,2,2,2,0,0,0,0,0,0,0,0],
    "Achromobacter":   [0,0,0,0,0,5,8,8,8,5,5,5,5,5,5,5,5,5,5,8],
    "Cedecea":         [0,0,0,0,0,3,5,5,5,5,5,5,5,5,5,5,5,5,5,5],
}
SB3_LINE = [0.15,0.08,0.3,0.28,0.3,0.3,0.25,0.15,0.2,0.12,0.18,0.1,0.2,0.1,0.2,0.05,0.05,0.2,0.1,0.15,0.22,0.1,0.15,0.28,0.15]
SB4 = {
    "Yersinia":        [0,0,0,0,0,0,5,20,40,48,50,55,55,55,52,50,30,25,30,30],
    "Pseudomonas":     [30,35,30,25,25,20,15,10,8,5,3,3,3,3,3,5,25,35,30,30],
    "Clostridioides":  [0,0,0,5,15,20,20,15,8,3,0,0,0,0,0,0,0,0,0,0],
    "Stenotrophomonas":[0,0,0,0,0,3,15,20,25,30,32,30,32,30,32,30,30,25,25,20],
    "Lachnoclostridium":[10,10,10,15,10,8,5,3,2,0,0,0,0,0,0,0,0,0,0,0],
    "Cedecea":         [45,40,40,30,25,25,20,15,8,5,5,5,5,5,5,5,5,5,3,3],
    "Chryseobacterium":[0,0,5,10,5,3,3,0,0,0,0,0,0,0,0,0,0,0,0,0],
    "Achromobacter":   [0,0,0,0,0,3,3,5,5,3,3,3,3,3,3,3,3,3,3,3],
    "Lactococcus":     [0,0,0,0,0,0,0,0,0,0,0,0,0,0,0,0,3,5,8,10],
}
SB4_LINE = [0.17,0.15,0.27,0.25,0.2,0.25,0.25,0.28,0.25,0.15,0.12,0.15,0.22,0.12,0.08,0.05,0.04,0.05,0.05,0.25,0.38,0.25,0.1,0.2,0.25]
SB5 = {
    "Yersinia":        [0,0,0,0,0,0,10,25,40,50,55,58,60,60,55,40,35,30,30,35],
    "Pseudomonas":     [15,20,20,20,25,30,25,10,5,3,3,3,3,3,3,15,25,25,30,30],
    "Clostridioides":  [5,5,5,10,8,5,3,0,0,0,0,0,0,0,0,0,0,0,0,0],
    "Stenotrophomonas":[0,0,0,0,0,0,15,25,30,30,32,30,30,28,30,30,30,35,30,25],
    "Minor":           [40,25,20,20,20,20,15,12,10,5,3,3,3,3,3,3,3,3,3,3],
    "Cedecea":         [5,10,10,10,10,10,10,10,5,5,0,0,0,0,0,0,0,0,0,0],
    "Pandoraea":       [3,5,5,5,5,5,5,5,3,2,0,0,0,0,0,0,0,0,0,0],
    "Achromobacter":   [0,0,0,0,0,5,8,8,5,3,3,3,3,3,3,3,3,3,3,3],
    "Chryseobacterium":[25,30,35,30,25,20,5,2,0,0,0,0,0,0,0,0,0,0,0,0],
}
SB5_LINE = [0.34,0.32,0.28,0.18,0.2,0.22,0.42,0.45,0.25,0.18,0.15,0.1,0.12,0.18,0.1,0.05,0.05,0.08,0.12,0.15,0.3,0.2,0.12,0.22,0.15]
SB6 = {
    "Yersinia":        [0,0,0,0,0,10,25,40,50,55,55,60,58,60,55,40,30,30,35,30],
    "Pseudomonas":     [10,15,10,10,10,10,5,3,3,3,3,3,3,3,3,20,35,35,30,30],
    "Clostridioides":  [0,0,0,5,10,15,15,10,5,3,0,0,0,0,0,0,0,0,0,0],
    "Stenotrophomonas":[0,0,0,0,0,5,15,20,22,25,28,25,28,25,28,25,20,22,22,22],
    "Lachnoclostridium":[5,10,25,20,25,15,10,5,3,3,2,2,2,2,2,2,2,2,2,2],
    "Cedecea":         [0,5,5,10,10,10,5,3,0,0,0,0,0,0,0,0,0,0,0,0],
    "Minor":           [50,45,35,35,25,20,15,12,10,5,5,5,5,5,5,5,5,3,3,3],
    "Chromobacterium": [25,15,10,5,5,3,0,0,0,0,0,0,0,0,0,0,0,0,0,0],
    "Pandoraea":       [0,5,10,10,8,5,3,3,3,0,0,0,0,0,0,0,0,0,0,0],
    "Achromobacter":   [0,0,0,0,0,0,3,3,3,3,3,3,3,3,5,5,5,5,5,5],
}
SB6_LINE = [0.55,0.45,0.3,0.22,0.2,0.35,0.3,0.28,0.25,0.2,0.15,0.18,0.15,0.15,0.12,0.15,0.12,0.1,0.06,0.2,0.38,0.2,0.12,0.15,0.15]
SB7 = {
    "Yersinia":        [45,50,50,55,55,60,62,62,62,65,65,62,62,62,60,45,45,48,45,48],
    "Pseudomonas":     [40,35,35,25,20,10,3,3,3,3,3,3,3,3,5,20,20,15,20,20],
    "Stenotrophomonas":[0,0,0,0,5,15,25,25,25,22,22,25,25,25,25,25,25,25,25,25],
    "Minor":           [10,10,8,10,8,8,5,5,5,5,5,5,5,5,5,5,5,5,5,3],
    "Pandoraea":       [0,2,5,8,10,5,0,0,0,0,0,0,0,0,0,0,0,0,0,0],
    "Achromobacter":   [0,0,0,0,0,2,3,3,3,3,3,3,3,3,3,3,3,3,3,3],
    "Lactococcus":     [0,0,0,0,0,0,0,0,0,0,0,0,0,0,0,0,0,0,2,3],
}
SB7_LINE = [0.34,0.28,0.33,0.28,0.25,0.28,0.15,0.12,0.08,0.05,0.07,0.05,0.1,0.2,0.1,0.08,0.05,0.07,0.1,0.2,0.28,0.15,0.1,0.2,0.08]
SB8 = {
    "Yersinia":        [25,25,30,30,30,35,40,40,42,45,50,50,50,50,45,30,25,25,20,20],
    "Pseudomonas":     [60,60,55,50,45,25,10,10,10,5,3,3,3,3,10,35,40,45,50,50],
    "Stenotrophomonas":[0,0,0,3,5,20,30,32,32,35,35,38,35,35,30,25,25,20,20,20],
    "Lachnoclostridium":[3,3,3,5,8,5,3,3,3,2,0,0,0,0,0,0,0,0,0,0],
    "Klebsiella":      [0,3,5,5,5,8,10,8,8,8,8,5,5,5,5,5,5,5,5,5],
    "Chryseobacterium":[3,3,3,3,3,2,0,0,0,0,0,0,0,0,0,0,0,0,0,0],
}
SB8_LINE = [0.1,0.12,0.22,0.22,0.15,0.32,0.25,0.15,0.1,0.12,0.2,0.1,0.1,0.05,0.05,0.04,0.03,0.05,0.05,0.15,0.38,0.2,0.08,0.2,0.15]

# ---- Soil / Medium-C ----
SC1 = {
    "Clostridioides":  [20,25,30,35,45,50,45,40,35,30,25,20,22,20,18,15,15,15,18,20],
    "Yersinia":        [0,0,0,0,0,0,5,10,20,30,35,40,45,50,50,55,55,55,52,50],
    "Pandoraea":       [10,15,20,25,25,25,30,30,30,28,25,25,22,20,22,20,20,22,22,20],
    "Minor":           [60,50,40,32,22,17,15,15,10,8,8,8,5,5,5,5,5,5,5,5],
    "Lachnoclostridium":[8,8,8,6,6,6,5,5,5,4,2,2,2,2,2,2,2,2,2,2],
    "Aeromonas":       [0,0,0,0,0,0,0,0,0,0,5,5,3,0,0,0,0,0,0,0],
}
SC1_LINE = [0.3,0.32,0.28,0.18,0.05,0.1,0.2,0.12,0.1,0.08,0.15,0.25,0.18,0.12,0.1,0.15,0.02,0.08,0.06,0.1,0.03,0.05,0.08,0.05,0.15]
SC2 = {
    "Clostridioides":  [30,30,25,20,30,25,25,25,20,25,20,20,15,20,25,20,20,15,15,15],
    "Yersinia":        [15,15,20,20,15,20,20,20,25,20,45,50,55,55,50,55,55,55,55,55],
    "Pandoraea":       [10,15,15,15,15,12,12,15,15,15,5,5,5,5,5,3,3,3,3,3],
    "Minor":           [25,25,25,20,20,20,20,20,15,15,15,10,12,12,15,17,17,20,22,22],
    "Cedecea":         [15,12,12,20,15,15,15,12,12,10,5,3,3,3,0,0,0,0,0,0],
    "Achromobacter":   [0,0,0,0,0,3,5,5,8,10,8,8,5,5,3,3,3,2,2,2],
}
SC2_LINE = [0.32,0.28,0.25,0.22,0.2,0.18,0.12,0.12,0.2,0.1,0.05,0.2,0.3,0.15,0.12,0.2,0.12,0.1,0.08,0.05,0.1,0.15,0.05,0.08,0.1]
SC3 = {
    "Clostridioides":  [10,20,15,15,20,15,20,15,20,25,20,15,20,20,15,20,15,15,15,10],
    "Pandoraea":       [15,10,15,15,15,20,20,25,25,20,25,25,20,30,25,25,25,30,30,35],
    "Minor":           [10,10,8,10,8,8,8,8,8,8,8,8,8,8,8,8,8,8,8,8],
    "Serratia":        [55,50,52,50,50,48,42,42,37,40,38,42,42,35,42,40,42,37,32,30],
    "Lachnoclostridium":[5,8,8,8,5,8,8,8,8,5,5,5,5,5,5,5,5,5,3,3],
    "Aeromonas":       [0,0,0,0,0,0,0,0,0,0,0,0,0,0,0,0,3,3,8,10],
    "Pseudomonas":     [3,0,0,0,0,0,0,0,0,0,0,0,0,0,0,0,0,0,0,0],
}
SC3_LINE = [0.18,0.15,0.1,0.1,0.08,0.15,0.18,0.12,0.05,0.1,0.15,0.3,0.1,0.1,0.15,0.25,0.05,0.15,0.08,0.2,0.15,0.1,0.05,0.12,0.12]
SC4 = {
    "Clostridioides":  [10,10,12,12,15,18,20,20,18,20,15,18,15,15,15,12,15,15,15,15],
    "Yersinia":        [0,0,3,8,15,25,30,35,40,45,50,55,55,60,65,68,70,72,72,75],
    "Pandoraea":       [10,15,15,20,25,20,20,18,18,15,15,12,12,10,8,8,8,8,8,8],
    "Minor":           [25,25,20,15,15,10,8,8,5,5,5,5,5,5,5,5,5,3,3,2],
    "Chromobacterium": [55,50,50,45,30,27,22,19,19,15,15,10,13,10,7,7,2,2,2,0],
}
SC4_LINE = [0.14,0.15,0.27,0.28,0.18,0.12,0.1,0.08,0.08,0.1,0.2,0.2,0.18,0.15,0.12,0.12,0.2,0.1,0.12,0.08,0.05,0.03,0.04,0.05,0.03]
SC5 = {
    "Clostridioides":  [25,30,35,40,45,45,48,50,48,45,30,20,18,15,25,35,40,40,45,45],
    "Pandoraea":       [5,10,15,18,20,20,22,25,25,25,20,12,15,15,15,15,15,15,15,12],
    "Minor":           [60,45,37,30,22,22,18,15,15,17,40,55,52,55,45,30,22,20,18,20],
    "Lachnoclostridium":[5,10,10,8,8,8,8,7,8,8,7,8,10,12,12,10,8,5,5,5],
    "Pseudomonas":     [5,3,2,2,2,2,0,0,0,0,0,0,0,0,0,0,0,0,0,0],
    "Aeromonas":       [0,0,0,0,0,0,0,0,0,0,0,0,0,0,0,5,15,15,15,15],
}
SC5_LINE = [0.4,0.32,0.25,0.15,0.08,0.12,0.1,0.08,0.03,0.03,0.06,0.1,0.12,0.2,0.3,0.25,0.12,0.15,0.12,0.06,0.1,0.08,0.1,0.05,0.05]
SC6 = {
    "Clostridioides":  [10,10,10,10,12,15,15,15,15,15,15,15,18,20,20,20,22,20,25,30],
    "Pandoraea":       [5,8,10,10,8,5,5,5,5,5,3,3,3,3,3,3,3,3,3,3],
    "Minor":           [15,20,25,30,35,40,42,45,48,50,55,60,62,65,55,50,45,45,45,45],
    "Cedecea":         [30,28,27,25,22,20,20,20,20,20,20,18,12,8,5,5,3,3,3,2],
    "Comamonas":       [40,34,28,25,23,20,15,12,10,8,5,3,2,2,2,2,2,2,2,2],
    "Aeromonas":       [0,0,0,0,0,0,0,0,0,0,0,0,0,3,12,18,18,18,15,12],
    "Achromobacter":   [0,0,0,0,0,0,0,0,0,0,0,0,0,0,0,2,5,8,5,5],
}
SC6_LINE = [0.14,0.1,0.12,0.15,0.18,0.12,0.15,0.12,0.1,0.18,0.1,0.15,0.15,0.2,0.12,0.12,0.06,0.25,0.12,0.1,0.08,0.12,0.1,0.2,0.08]
SC7 = {
    "Clostridioides":  [30,35,40,45,50,55,58,60,60,60,58,55,55,45,35,30,25,25,20,25],
    "Yersinia":        [0,0,0,0,0,0,0,0,0,0,0,0,0,0,3,5,10,15,25,25],
    "Pandoraea":       [0,5,10,15,15,15,12,10,12,12,15,15,18,25,25,25,25,25,25,20],
    "Minor":           [55,40,30,20,15,10,12,12,12,12,12,12,10,10,10,10,10,10,10,10],
    "Lachnoclostridium":[10,12,15,15,15,15,13,13,12,12,12,12,12,15,15,12,10,8,5,5],
    "Pseudomonas":     [5,3,3,2,2,2,2,2,2,2,2,2,2,3,10,15,15,12,10,5],
    "Aeromonas":       [0,0,0,0,0,0,0,0,0,0,0,0,0,0,0,0,0,3,3,5],
}
SC7_LINE = [0.28,0.3,0.22,0.2,0.15,0.3,0.15,0.1,0.05,0.1,0.02,0.08,0.1,0.08,0.04,0.12,0.05,0.1,0.08,0.2,0.12,0.15,0.2,0.08,0.12]
SC8 = {
    "Clostridioides":  [25,30,35,45,52,55,55,50,48,45,20,5,35,55,55,45,40,35,30,25],
    "Yersinia":        [0,0,0,0,0,0,0,0,0,0,0,0,0,0,2,8,15,25,35,40],
    "Pandoraea":       [5,10,15,18,20,20,22,25,22,20,15,10,20,20,18,15,15,15,18,20],
    "Minor":           [40,30,22,18,12,10,10,10,10,10,10,20,5,5,5,5,5,5,5,5],
    "Lachnoclostridium":[0,3,5,5,5,5,3,3,3,3,2,2,2,2,2,2,2,2,2,2],
    "Chromobacterium": [30,27,23,14,11,10,10,12,17,22,53,63,38,18,18,20,15,8,5,3],
    "Serratia":        [0,0,0,0,0,0,0,0,0,0,0,0,0,0,0,5,8,10,5,5],
}
SC8_LINE = [0.23,0.22,0.2,0.18,0.18,0.2,0.15,0.12,0.08,0.05,0.1,0.15,0.28,0.25,0.12,0.35,0.28,0.08,0.08,0.12,0.15,0.2,0.15,0.12,0.08]

PANELS = {
    ("Water", "Medium-A"): ([WA1, WA2, WA3, WA4, WA5, WA6, WA7, WA8],
                            [WA1_LINE, WA2_LINE, WA3_LINE, WA4_LINE, WA5_LINE, WA6_LINE, WA7_LINE, WA8_LINE]),
    ("Water", "Medium-B"): ([WB1, WB2, WB3, WB4, WB5, WB6, WB7, WB8],
                            [WB1_LINE, WB2_LINE, WB3_LINE, WB4_LINE, WB5_LINE, WB6_LINE, WB7_LINE, WB8_LINE]),
    ("Water", "Medium-C"): ([WC1, WC2, WC3, WC4, WC5, WC6, WC7, WC8],
                            [WC1_LINE, WC2_LINE, WC3_LINE, WC4_LINE, WC5_LINE, WC6_LINE, WC7_LINE, WC8_LINE]),
    ("Soil", "Medium-A"): ([SA1, SA2, SA3, SA4, SA5, SA6, SA7, SA8],
                           [SA1_LINE, SA2_LINE, SA3_LINE, SA4_LINE, SA5_LINE, SA6_LINE, SA7_LINE, SA8_LINE]),
    ("Soil", "Medium-B"): ([SB1, SB2, SB3, SB4, SB5, SB6, SB7, SB8],
                           [SB1_LINE, SB2_LINE, SB3_LINE, SB4_LINE, SB5_LINE, SB6_LINE, SB7_LINE, SB8_LINE]),
    ("Soil", "Medium-C"): ([SC1, SC2, SC3, SC4, SC5, SC6, SC7, SC8],
                           [SC1_LINE, SC2_LINE, SC3_LINE, SC4_LINE, SC5_LINE, SC6_LINE, SC7_LINE, SC8_LINE]),
}

# ---------------- layout geometry (page pixels; body margin removed by post_script) ----------------
W, H = 1231, 1747
COL_X = [(112, 378), (482, 748), (852, 1118)]
STRIP_W = 26.5
GROUP_TOP = [34.3, 832.7]
ROW_PITCH = 91.06
ROW_H = 78.4
FONT = "Liberation Sans, Arial, Helvetica, sans-serif"


def px(x):
    return x / W


def py(y):
    return 1 - y / H


fig = go.Figure()
axes = {}
shapes = []
annotations = []

k = 0
for g, hab in enumerate(HABITATS):
    for c, med in enumerate(MEDIA):
        comps, lines = PANELS[(hab, med)]
        x0, x1 = COL_X[c]
        for r in range(8):
            k += 1
            xa, ya = f"x{k}", f"y{k}"
            top = GROUP_TOP[g] + r * ROW_PITCH
            bot = top + ROW_H
            comp = comps[r]
            n = len(DAYS)
            totals = [sum(v[i] for v in comp.values()) for i in range(n)]
            layers = list(comp.items()) + [("Others", [max(0, 100 - t) for t in totals])]
            for name, vals in layers:
                color = MINOR_COLOR if name.startswith("Minor") else GENUS_COLORS[name]
                fig.add_trace(go.Scatter(
                    x=DAYS[:len(vals)], y=vals, mode="lines", stackgroup=f"s{k}", groupnorm="fraction",
                    fillcolor=color, line=dict(color="rgba(45,45,45,0.55)", width=0.5),
                    xaxis=xa, yaxis=ya, hoverinfo="skip", showlegend=False))
            fig.add_trace(go.Scatter(
                x=[DAYS[0], DAYS[-1] - 3], y=[THRESHOLD, THRESHOLD], mode="lines",
                line=dict(color="#111111", width=1.1, dash="8px,5px"),
                xaxis=xa, yaxis=ya, hoverinfo="skip", showlegend=False))
            lv = lines[r]
            ld = LINE_DAYS[:len(lv)]
            if c == 0:
                fig.add_trace(go.Scatter(x=ld, y=lv, mode="lines", line=dict(color="#5C8F2E", width=4.2),
                                         xaxis=xa, yaxis=ya, hoverinfo="skip", showlegend=False))
                fig.add_trace(go.Scatter(x=ld, y=lv, mode="lines", line=dict(color="#B9EE62", width=2),
                                         xaxis=xa, yaxis=ya, hoverinfo="skip", showlegend=False))
            else:
                fig.add_trace(go.Scatter(x=ld, y=lv, mode="lines", line=dict(color="#7D9A2C", width=3.2),
                                         xaxis=xa, yaxis=ya, hoverinfo="skip", showlegend=False))
                fig.add_trace(go.Scatter(x=ld, y=lv, mode="lines", line=dict(color="#C6F53E", width=2),
                                         xaxis=xa, yaxis=ya, hoverinfo="skip", showlegend=False))
            last = (r == 7)
            axes[f"xaxis{k}"] = dict(
                domain=[px(x0), px(x1)], range=[DAYS[0], DAYS[-1]], anchor=ya, automargin=False,
                showgrid=False, zeroline=False, showline=True, mirror=True,
                linecolor="#1a1a1a", linewidth=1,
                tickvals=DAY_TICKS, showticklabels=last, ticks="outside" if last else "",
                ticklen=4, tickcolor="#333333",
                tickfont=dict(size=14, color="#4D4D4D", family=FONT))
            axes[f"yaxis{k}"] = dict(
                domain=[py(bot), py(top)], range=[0, 1], anchor=xa, side="right", automargin=False,
                showgrid=False, zeroline=False, showline=True, mirror=True,
                linecolor="#1a1a1a", linewidth=1,
                tickvals=PROP_TICKS, ticktext=PROP_TICK_LABELS, ticks="outside",
                ticklen=4, tickcolor="#333333",
                tickfont=dict(size=14, color="#4D4D4D", family=FONT))
            shapes.append(dict(type="rect", xref="paper", yref="paper",
                               x0=px(x0 - STRIP_W), x1=px(x0), y0=py(bot), y1=py(top),
                               fillcolor="#D9D9D9", line=dict(color="#333333", width=0.8), layer="above"))
            annotations.append(dict(text=REPLICATES[r], x=px(x0 - STRIP_W / 2), y=py((top + bot) / 2),
                                    xref="paper", yref="paper", showarrow=False, textangle=-90,
                                    xanchor="center", yanchor="middle",
                                    font=dict(size=14, color="#1a1a1a", family=FONT)))
        title_y = 19 if g == 0 else 816
        annotations.append(dict(text=f"{hab}/{med}", x=px(x0 - 1), y=py(title_y), xref="paper", yref="paper",
                                showarrow=False, xanchor="left", yanchor="middle",
                                font=dict(size=18, color="#000000", family=FONT)))
        day_y = 783 if g == 0 else 1581.5
        annotations.append(dict(text="Day", x=px((x0 + x1) / 2), y=py(day_y), xref="paper", yref="paper",
                                showarrow=False, xanchor="center", yanchor="middle",
                                font=dict(size=17.5, color="#000000", family=FONT)))
        tax_x = [427, 796, 1166][c]
        tax_y = 391.6 if g == 0 else 1190
        annotations.append(dict(text="Taxonomic compositions", x=px(tax_x), y=py(tax_y), xref="paper", yref="paper",
                                showarrow=False, textangle=90, xanchor="center", yanchor="middle",
                                font=dict(size=19, color="#000000", family=FONT)))
    rep_x = 52 if g == 0 else 56
    rep_y = 419 if g == 0 else 1163
    annotations.append(dict(text="Replicate community", x=px(rep_x), y=py(rep_y), xref="paper", yref="paper",
                            showarrow=False, textangle=-90, xanchor="center", yanchor="middle",
                            font=dict(size=14.5, color="#000000", family=FONT)))

# ---------------- legend (manual, column-major) ----------------
annotations.append(dict(text="Genus", x=px(10), y=py(1601), xref="paper", yref="paper", showarrow=False,
                        xanchor="left", yanchor="middle", font=dict(size=23.5, color="#000000", family=FONT)))
DOT_X = [20, 189, 407, 566, 789, 949, 1125]
TEXT_X = [44, 211, 428, 588, 811, 972, 1146]
ROW_Y = [1630, 1654, 1674, 1694, 1716, 1736]
R = 6.2
for ci, col in enumerate(LEGEND_COLUMNS):
    for ri, name in enumerate(col):
        cx, cy = DOT_X[ci], ROW_Y[ri]
        shapes.append(dict(type="circle", xref="paper", yref="paper",
                           x0=px(cx - R), x1=px(cx + R), y0=py(cy + R), y1=py(cy - R),
                           fillcolor=GENUS_COLORS[name], line=dict(width=0)))
        if name in ("Unidentified", "Others"):
            label = name
        elif name.startswith("Burkholderia"):
            label = "<i>Burkholderia-Caballeronia-</i><br><i>Paraburkholderia</i>"
        else:
            label = f"<i>{name}</i>"
        annotations.append(dict(text=label, x=px(TEXT_X[ci]), y=py(cy), xref="paper", yref="paper",
                                showarrow=False, xanchor="left", yanchor="middle", align="left",
                                font=dict(size=14, color="#111111", family=FONT)))

fig.update_layout(
    width=W, height=H, margin=dict(l=0, r=0, t=0, b=0, autoexpand=False),
    paper_bgcolor="white", plot_bgcolor="white", showlegend=False,
    font=dict(family=FONT), shapes=shapes, annotations=annotations, **axes)

fig.write_html("out.html", config={"displayModeBar": False},
               post_script="document.body.style.margin='0';")
